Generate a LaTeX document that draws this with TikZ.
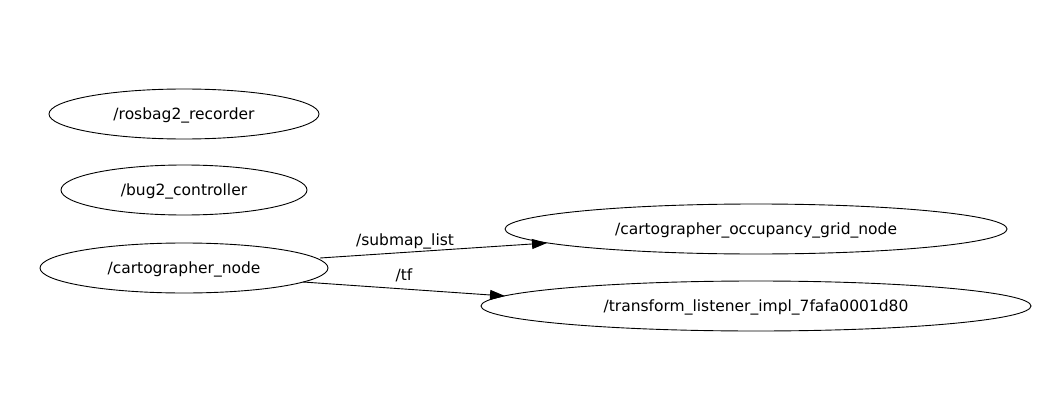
\documentclass[tikz,border=0pt]{standalone}
\usepackage{fontspec}
\setmainfont{DejaVu Sans}
\usetikzlibrary{shapes.geometric,arrows.meta,calc}
\begin{document}
\begin{tikzpicture}[x=1pt,y=-1pt,
  rosnode/.style={draw,ellipse,line width=0.9pt,inner sep=0pt,minimum height=50pt,text depth=0pt,font=\fontsize{15.5}{18}\selectfont},
  topic/.style={line width=0.9pt,-{Triangle[length=15pt,width=10pt]}},
  elabel/.style={font=\fontsize{15.5}{18}\selectfont}]
\useasboundingbox (0,0) rectangle (1059,401);
\node[rosnode,minimum width=270pt] (rec) at (184,114) {/rosbag2\_recorder};
\node[rosnode,minimum width=246pt] (bug) at (184,190) {/bug2\_controller};
\node[rosnode,minimum width=288pt] (cn) at (184,268) {/cartographer\_node};
\node[rosnode,minimum width=502pt] (og) at (756,229) {/cartographer\_occupancy\_grid\_node};
\node[rosnode,minimum width=550pt] (tl) at (756,306) {/transform\_listener\_impl\_7fafa0001d80};
\draw[topic] ($(cn.center)+(136,-10)$) -- ($(og.center)+(-209,14)$);
\draw[topic] ($(cn.center)+(119,14)$) -- ($(tl.center)+(-251,-10)$);
\node[elabel] (l1) at (405,241.5) {/submap\_list};
\node[elabel] (l2) at (404,275.5) {/tf};
\end{tikzpicture}
\end{document}
